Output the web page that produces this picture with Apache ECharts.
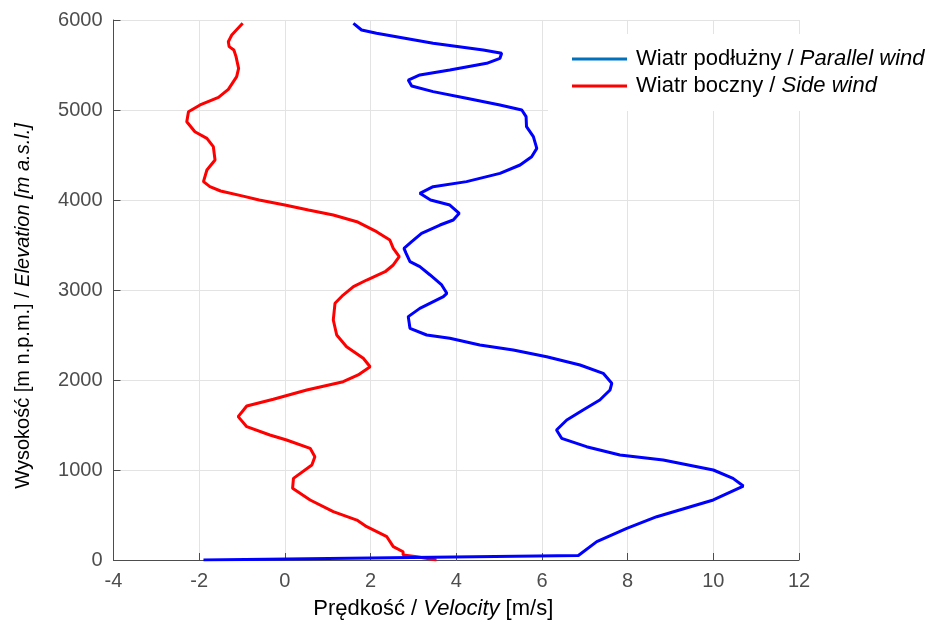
<!DOCTYPE html>
<html>
<head>
<meta charset="utf-8">
<title>Profil wiatru</title>
<script src="https://cdn.jsdelivr.net/npm/echarts@6/dist/echarts.min.js"></script>
<style>
    html, body { margin: 0; padding: 0; background: #fff; }
    #chart { width: 926px; height: 637px; }
</style>
</head>
<body>
<div id="chart"></div>
<script>
// Wiatr podłużny / Parallel wind  (wysokość m, prędkość m/s)
const parallelElev = [0, 50, 204, 352, 481, 667, 822, 907, 1000, 1111, 1167, 1259, 1352, 1444, 1556, 1667, 1778, 1889, 1963,
    2074, 2167, 2259, 2333, 2389, 2463, 2500, 2574, 2704, 2796, 2926, 2963, 3056, 3167, 3259, 3315, 3407, 3463, 3537, 3630,
    3722, 3778, 3852, 3944, 4000, 4074, 4148, 4204, 4296, 4389, 4481, 4574, 4704, 4815, 4926, 5000, 5056, 5130, 5204, 5267,
    5333, 5389, 5444, 5519, 5574, 5630, 5667, 5741, 5852, 5889, 5963];
const parallelVel = [-1.90, 6.85, 7.28, 7.98, 8.68, 10.0, 10.70, 10.46, 10.0, 8.83, 7.82, 7.04, 6.46, 6.34, 6.58, 6.96, 7.35, 7.59, 7.63,
    7.43, 6.89, 6.11, 5.33, 4.55, 3.85, 3.31, 2.92, 2.88, 3.15, 3.70, 3.78, 3.66, 3.39, 3.15, 2.92, 2.83, 2.78, 2.96, 3.19,
    3.62, 3.93, 4.07, 3.85, 3.40, 3.15, 3.46, 4.24, 5.02, 5.49, 5.76, 5.88, 5.80, 5.64, 5.63, 5.53, 5.02, 4.24, 3.46, 2.96,
    2.88, 3.15, 3.85, 4.71, 5.02, 5.06, 4.63, 3.46, 2.14, 1.79, 1.60];

// Wiatr boczny / Side wind
const sideElev = [0, 37, 56, 92, 148, 259, 370, 444, 537, 667, 796, 907, 1056, 1148, 1241, 1333, 1389, 1481, 1593, 1711, 1786,
    1889, 1981, 2056, 2148, 2241, 2370, 2500, 2667, 2852, 2944, 3037, 3111, 3203, 3278, 3370, 3463, 3556, 3648, 3759, 3833,
    3889, 3944, 4000, 4040, 4100, 4148, 4204, 4333, 4444, 4593, 4685, 4759, 4870, 4981, 5056, 5141, 5230, 5370, 5463, 5593,
    5667, 5704, 5759, 5833, 5963];
const sideVel = [3.54, 3.08, 2.76, 2.76, 2.53, 2.38, 1.91, 1.68, 1.13, 0.59, 0.18, 0.20, 0.63, 0.70, 0.59, 0.04, -0.35, -0.89, -1.09, -0.89, -0.27,
    0.51, 1.36, 1.71, 1.99, 1.83, 1.44, 1.21, 1.13, 1.17, 1.36, 1.60, 1.91, 2.34, 2.53, 2.67, 2.53, 2.45, 2.14, 1.68, 1.13,
    0.55, 0.00, -0.60, -0.95, -1.50, -1.75, -1.90, -1.82, -1.63, -1.67, -1.82, -2.10, -2.29, -2.25, -1.98, -1.55, -1.32, -1.125, -1.08, -1.14,
    -1.19, -1.30, -1.32, -1.24, -0.985];

const seriesNames = ['Wiatr podłużny / Parallel wind', 'Wiatr boczny / Side wind'];

const FONT = '"Liberation Sans", Arial, sans-serif';
const TICK_COLOR = '#4d4d4d';

// para [prędkość, wysokość]
function zipPoints(vel, elev) {
    return vel.map((v, i) => [v, elev[i]]);
}

const chart = echarts.init(document.getElementById('chart'), null, { renderer: 'canvas' });

const option = {
    backgroundColor: '#fff',
    animation: false,
    grid: {
        left: 113.5,
        right: 127,
        top: 20,
        bottom: 77
    },
    legend: {
        orient: 'vertical',
        left: 548,
        top: 34,
        backgroundColor: '#fff',
        padding: [14, 2, 14, 24],
        itemGap: 5,
        itemWidth: 55,
        itemHeight: 3,
        icon: 'rect',
        data: [
            { name: seriesNames[0], icon: 'rect', itemStyle: { color: '#0072BD' } },
            { name: seriesNames[1], icon: 'rect', itemStyle: { color: '#FF0000' } }
        ],
        formatter: function (name) {
            const parts = name.split(' / ');
            return parts[0] + ' / {i|' + parts[1] + '}';
        },
        textStyle: {
            fontFamily: FONT,
            fontSize: 22,
            color: '#000',
            padding: [0, 0, 0, 4],
            rich: {
                i: { fontFamily: FONT, fontSize: 22, fontStyle: 'italic', color: '#000' }
            }
        }
    },
    xAxis: {
        type: 'value',
        min: -4,
        max: 12,
        interval: 2,
        name: 'Prędkość / {i|Velocity} [m/s]',
        nameLocation: 'middle',
        nameGap: 38,
        nameTextStyle: {
            fontFamily: FONT,
            fontSize: 22,
            color: '#000',
            padding: [0, 46, 0, 0],
            rich: {
                i: { fontFamily: FONT, fontSize: 22, fontStyle: 'italic', color: '#000' }
            }
        },
        axisLine: { show: true, onZero: false, lineStyle: { color: '#4d4d4d', width: 1 } },
        axisTick: { show: true, inside: true, length: 7, lineStyle: { color: '#4d4d4d' } },
        axisLabel: { fontFamily: FONT, fontSize: 20, color: TICK_COLOR, margin: 11 },
        splitLine: { show: true, lineStyle: { color: '#e3e3e3', width: 1 } }
    },
    yAxis: {
        type: 'value',
        min: 0,
        max: 6000,
        interval: 1000,
        name: 'Wysokość [m n.p.m.] / {i|Elevation [m a.s.l.]}',
        nameLocation: 'middle',
        nameGap: 80,
        nameTextStyle: {
            fontFamily: FONT,
            fontSize: 20,
            color: '#000',
            padding: [0, 32, 0, 0],
            rich: {
                i: { fontFamily: FONT, fontSize: 20, fontStyle: 'italic', color: '#000' }
            }
        },
        axisLine: { show: true, onZero: false, lineStyle: { color: '#4d4d4d', width: 1 } },
        axisTick: { show: true, inside: true, length: 7, lineStyle: { color: '#4d4d4d' } },
        axisLabel: {
            fontFamily: FONT,
            fontSize: 20,
            color: TICK_COLOR,
            margin: 11,
            formatter: function (v) { return String(v); }
        },
        splitLine: { show: true, lineStyle: { color: '#e3e3e3', width: 1 } }
    },
    series: [
        {
            name: seriesNames[0],
            type: 'line',
            data: zipPoints(parallelVel, parallelElev),
            symbol: 'none',
            showSymbol: false,
            smooth: false,
            lineStyle: { color: '#0000FF', width: 3 },
            itemStyle: { color: '#0000FF' },
            z: 3
        },
        {
            name: seriesNames[1],
            type: 'line',
            data: zipPoints(sideVel, sideElev),
            symbol: 'none',
            showSymbol: false,
            smooth: false,
            lineStyle: { color: '#FF0000', width: 3 },
            itemStyle: { color: '#FF0000' },
            z: 2
        }
    ]
};

chart.setOption(option);
</script>
</body>
</html>
